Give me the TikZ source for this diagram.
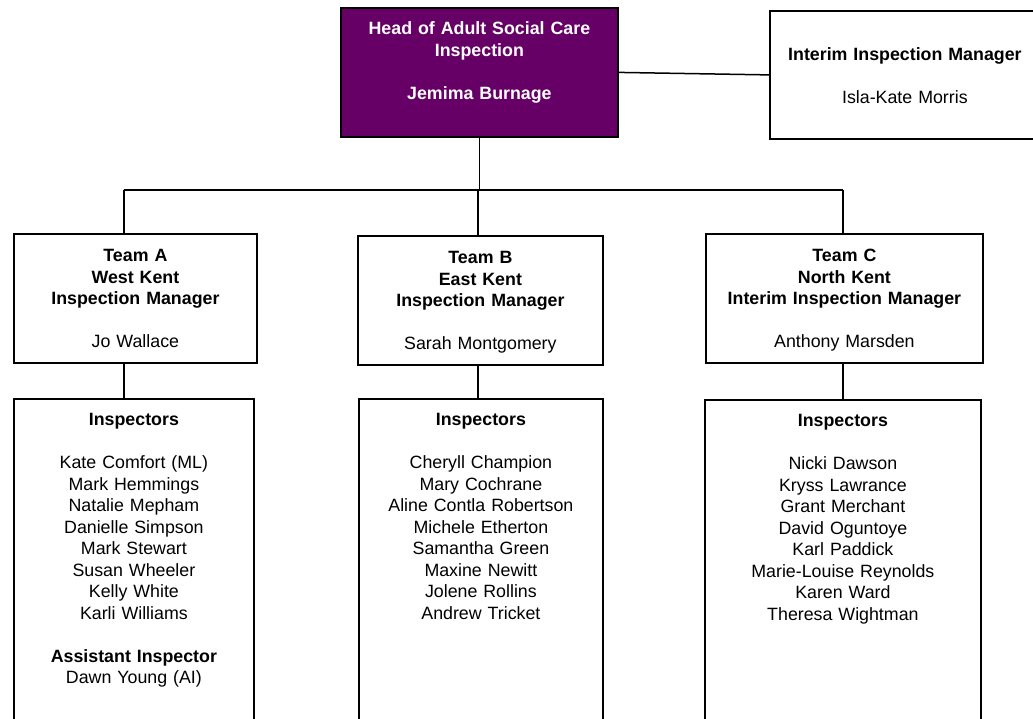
\documentclass[tikz,border=0pt]{standalone}
\usepackage{fontspec}
\setmainfont{Liberation Sans}
\definecolor{headpurple}{RGB}{102,0,102}
\begin{document}
\begin{tikzpicture}[x=1pt,y=-1pt,
	box/.style={draw,line width=1.8pt,align=center,anchor=north west,inner xsep=4pt,inner ysep=13pt,font=\fontsize{17.8}{21.5}\selectfont},
	teambox/.style={box,text height=15pt,text depth=88pt},
	listbox/.style={box,text height=14pt,text depth=330pt},
	link/.style={line width=1.5pt}]
	\useasboundingbox (0,0) rectangle (1033,718);
	\clip (0,0) rectangle (1033,718);
	% Head
	\node [box,fill=headpurple,text=white,text width=269pt,text height=14pt,text depth=89pt] (head) at (340,7)
		{\bfseries Head of Adult Social Care\\ Inspection\\[21.5pt] Jemima Burnage};
	\node [box,text width=262pt,text height=37pt,text depth=65pt] (interim) at (769,10)
		{\bfseries Interim Inspection Manager\\[21.5pt] \mdseries Isla-Kate Morris};
	% Teams
	\node [teambox,text width=235pt] (teamA) at (13,233)
		{\bfseries Team A\\ West Kent\\ Inspection Manager\\[21.5pt] \mdseries Jo Wallace};
	\node [teambox,text width=237pt] (teamB) at (357,235)
		{\bfseries Team B\\ East Kent\\ Inspection Manager\\[21.5pt] \mdseries Sarah Montgomery};
	\node [teambox,text width=269pt] (teamC) at (705,233)
		{\bfseries Team C\\ North Kent\\ Interim Inspection Manager\\[21.5pt] \mdseries Anthony Marsden};
	% Inspectors
	\node [listbox,text width=232pt] (inspA) at (13,398)
		{\bfseries Inspectors\\[21.5pt] \mdseries Kate Comfort (ML)\\ Mark Hemmings\\ Natalie Mepham\\ Danielle Simpson\\ Mark Stewart\\ Susan Wheeler\\ Kelly White\\ Karli Williams\\[21.5pt] \bfseries Assistant Inspector\\ \mdseries Dawn Young (AI)};
	\node [listbox,text width=236pt] (inspB) at (358,398)
		{\bfseries Inspectors\\[21.5pt] \mdseries Cheryll Champion\\ Mary Cochrane\\ Aline Contla Robertson\\ Michele Etherton\\ Samantha Green\\ Maxine Newitt\\ Jolene Rollins\\ Andrew Tricket};
	\node [listbox,text width=268pt] (inspC) at (704,399)
		{\bfseries Inspectors\\[21.5pt] \mdseries Nicki Dawson\\ Kryss Lawrance\\ Grant Merchant\\ David Oguntoye\\ Karl Paddick\\ Marie-Louise Reynolds\\ Karen Ward\\ Theresa Wightman};
	% Lines
	\coordinate (busA) at (124,190);
	\coordinate (busB) at (478,190);
	\coordinate (busC) at (843,190);
	\draw [link] (head.east) -- (interim.west);
	\draw [link] (head.south) -- (head.south |- busB);
	\draw [link] (busA) -- (busC);
	\foreach \t in {A,B,C}
		\draw [link] (bus\t) -- (team\t.north -| bus\t) (team\t.south -| bus\t) -- (insp\t.north -| bus\t);
\end{tikzpicture}
\end{document}
